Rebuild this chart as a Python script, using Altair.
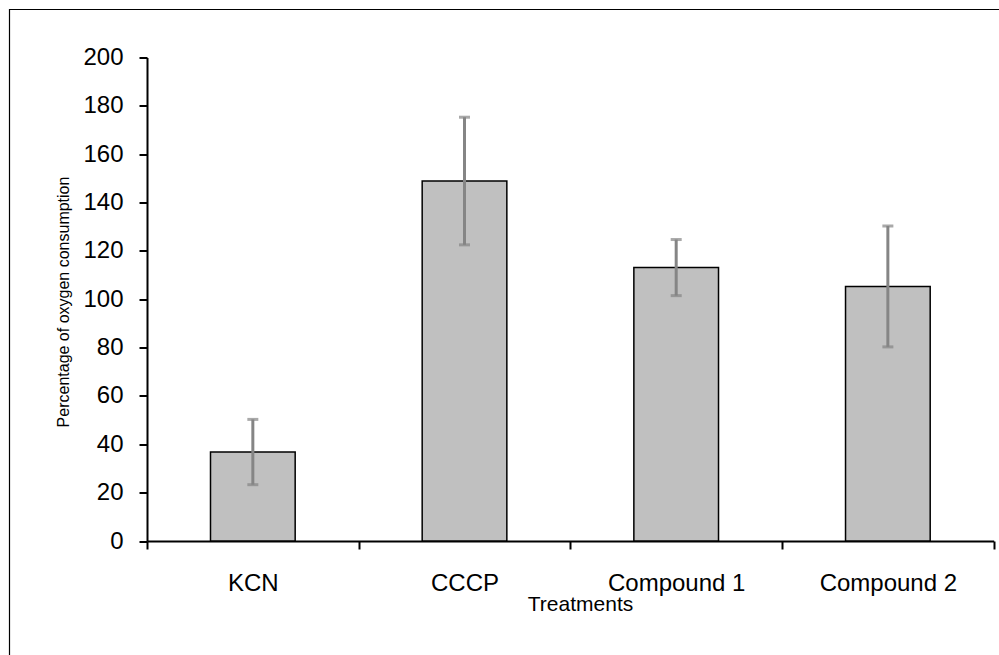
import altair as alt
import pandas as pd

treatments = ["KCN", "CCCP", "Compound 1", "Compound 2"]
means = [36.8, 148.9, 113.1, 105.3]
errors = [13.5, 26.4, 11.6, 25.0]
y_ticks = list(range(0, 201, 20))

df = pd.DataFrame({"treatment": treatments, "mean": means, "err": errors})
df["lower"] = df["mean"] - df["err"]
df["upper"] = df["mean"] + df["err"]

FONT = "Liberation Sans"

x_scale = alt.Scale(paddingInner=0, paddingOuter=0)

x_enc = alt.X(
    "treatment:N",
    sort=treatments,
    scale=x_scale,
    axis=alt.Axis(
        title="Treatments",
        labelAngle=0,
        labelFontSize=24,
        labelPadding=22,
        labelColor="black",
        tickBand="extent",
        tickSize=8,
        tickColor="black",
        tickWidth=2,
        domainColor="black",
        domainWidth=2,
        titleFontSize=21,
        titleFontWeight="normal",
        titleColor="black",
        titleX=433,
        titleY=69,
        titleAlign="center",
        titleBaseline="alphabetic",
    ),
)

y_scale = alt.Scale(domain=[0, 200], nice=False)
y_axis = alt.Axis(
    title="Percentage of oxygen consumption",
    values=y_ticks,
    grid=False,
    labelFontSize=24,
    labelPadding=16,
    labelColor="black",
    tickSize=8,
    tickColor="black",
    tickWidth=2,
    domainColor="black",
    domainWidth=2,
    titleFontSize=16,
    titleFontWeight="normal",
    titleColor="black",
    titleX=-79,
    titleY=244,
    titleAngle=-90,
    titleAlign="center",
    titleBaseline="alphabetic",
)

base = alt.Chart(df)

frame = alt.Chart(pd.DataFrame({"f": [0]})).mark_rect(
    fill=None, fillOpacity=0, stroke="black", strokeWidth=1.2
).encode(
    x=alt.value(-137.5), x2=alt.value(1000), y=alt.value(-48), y2=alt.value(700)
)

bars = base.mark_bar(
    color="#c0c0c0", stroke="black", strokeWidth=1.5, width=alt.RelativeBandSize(0.4)
).encode(
    x=x_enc,
    y=alt.Y("mean:Q", scale=y_scale, axis=y_axis),
)

x_plain = alt.X("treatment:N", sort=treatments, scale=x_scale)

rules = base.mark_rule(color="#858585", strokeWidth=3).encode(
    x=x_plain,
    y=alt.Y("lower:Q"),
    y2="upper:Q",
)

cap_lo = base.mark_tick(color="#858585", thickness=3, size=11).encode(
    x=x_plain,
    y=alt.Y("lower:Q"),
)
cap_hi = base.mark_tick(color="#858585", thickness=3, size=11).encode(
    x=x_plain,
    y=alt.Y("upper:Q"),
)

chart = alt.layer(frame, bars, rules, cap_lo, cap_hi).properties(
    width=846.7,
    height=483.5,
    autosize=alt.AutoSizeParams(type="none"),
    padding={"left": 147, "top": 57.5, "right": 5.3, "bottom": 114},
).configure(font=FONT).configure_view(stroke=None).configure_axis(
    labelFont=FONT, titleFont=FONT
)

chart.save("out.html", embed_options={"renderer": "svg", "actions": False})
